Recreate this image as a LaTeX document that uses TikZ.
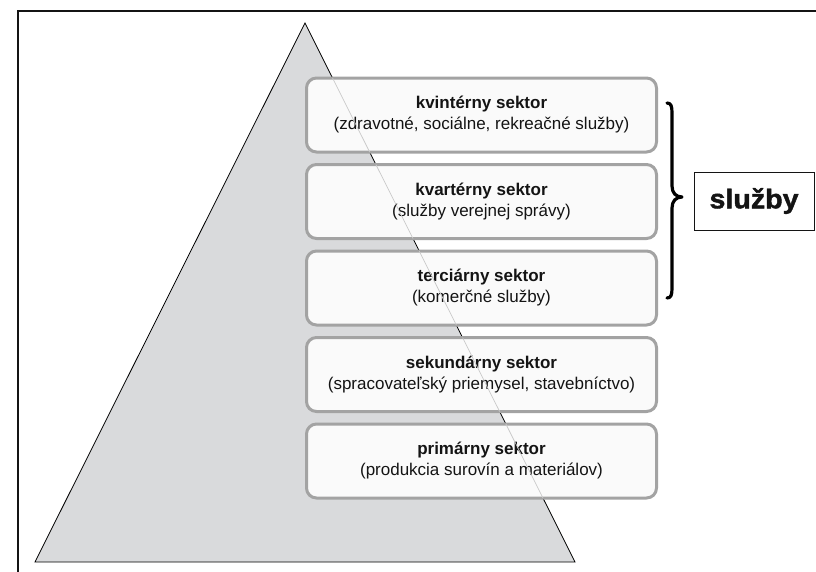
\documentclass[tikz,border=0pt]{standalone}
\usepackage{fontspec}
\setmainfont{Liberation Sans}
\newfontfamily\tagfont[FakeStretch=1.06, FakeBold=1.6]{Liberation Sans Bold}
\definecolor{pyrfill}{HTML}{D9DADC}
\definecolor{boxedge}{HTML}{A3A3A3}
\definecolor{boxfill}{HTML}{FAFAFA}
\definecolor{seam}{HTML}{C8C8C8}
\definecolor{ink}{HTML}{141414}
\tikzset{
  sector/.style={draw=boxedge, line width=3pt, rounded corners=10pt,
    fill=boxfill, text=ink,
    minimum width=350pt, minimum height=74pt, align=center,
    font=\fontsize{17}{21}\selectfont, inner sep=0pt},
  tag/.style={draw=ink, line width=1pt, anchor=west, align=left,
    text width=90pt, inner xsep=15pt, minimum height=58pt,
    font=\fontsize{27}{30}\tagfont, text=ink},
  bracket/.style={draw=black, line width=3.2pt, line cap=round, line join=round},
  frame/.style={draw=ink, line width=1.4pt}
}
\begin{document}
\begin{tikzpicture}[x=1pt,y=-1pt]
\useasboundingbox (0,0) rectangle (816,571);
% outer frame
\draw[frame] (18,575) -- (18,11) -- (820,11);
% pyramid
\coordinate (apex) at (305,23);
\coordinate (bl) at (35,562);
\coordinate (br) at (575,562);
\draw[fill=pyrfill, draw=black, line width=0.8pt] (apex) -- (bl) -- (br) -- cycle;
% sectors
\node[sector] (s5) at (481.5,115)   {\textbf{kvintérny sektor}\\(zdravotné, sociálne, rekreačné služby)};
\node[sector] (s4) at (481.5,201.5) {\textbf{kvartérny sektor}\\(služby verejnej správy)};
\node[sector] (s3) at (481.5,288)   {\textbf{terciárny sektor}\\(komerčné služby)};
\node[sector] (s2) at (481.5,374.5) {\textbf{sekundárny sektor}\\(spracovateľský priemysel, stavebníctvo)};
\node[sector] (s1) at (481.5,461)   {\textbf{primárny sektor}\\(produkcia surovín a materiálov)};
% pyramid edge faintly visible through the sector boxes
\begin{scope}
  \clip ([shift={(1.5,-1.5)}]s5.south west) rectangle ([shift={(-1.5,1.5)}]s5.north east)
        ([shift={(1.5,-1.5)}]s4.south west) rectangle ([shift={(-1.5,1.5)}]s4.north east)
        ([shift={(1.5,-1.5)}]s3.south west) rectangle ([shift={(-1.5,1.5)}]s3.north east)
        ([shift={(1.5,-1.5)}]s2.south west) rectangle ([shift={(-1.5,1.5)}]s2.north east)
        ([shift={(1.5,-1.5)}]s1.south west) rectangle ([shift={(-1.5,1.5)}]s1.north east);
  \draw[seam, line width=0.7pt] (apex) -- (br);
\end{scope}
% brace over the service sectors
\coordinate (bt) at (667,103);
\coordinate (bm) at (682,197);
\coordinate (bb) at (667,298);
\draw[bracket] (bt) .. controls (671,103) and (672,106) .. (672,113)
  -- (672,186) .. controls (672,193) and (676,197) .. (bm)
  .. controls (676,197) and (672,201) .. (672,208)
  -- (672,288) .. controls (672,295) and (671,298) .. (bb);
% label
\node[tag] (sl) at (694,201) {služby};
\end{tikzpicture}
\end{document}
